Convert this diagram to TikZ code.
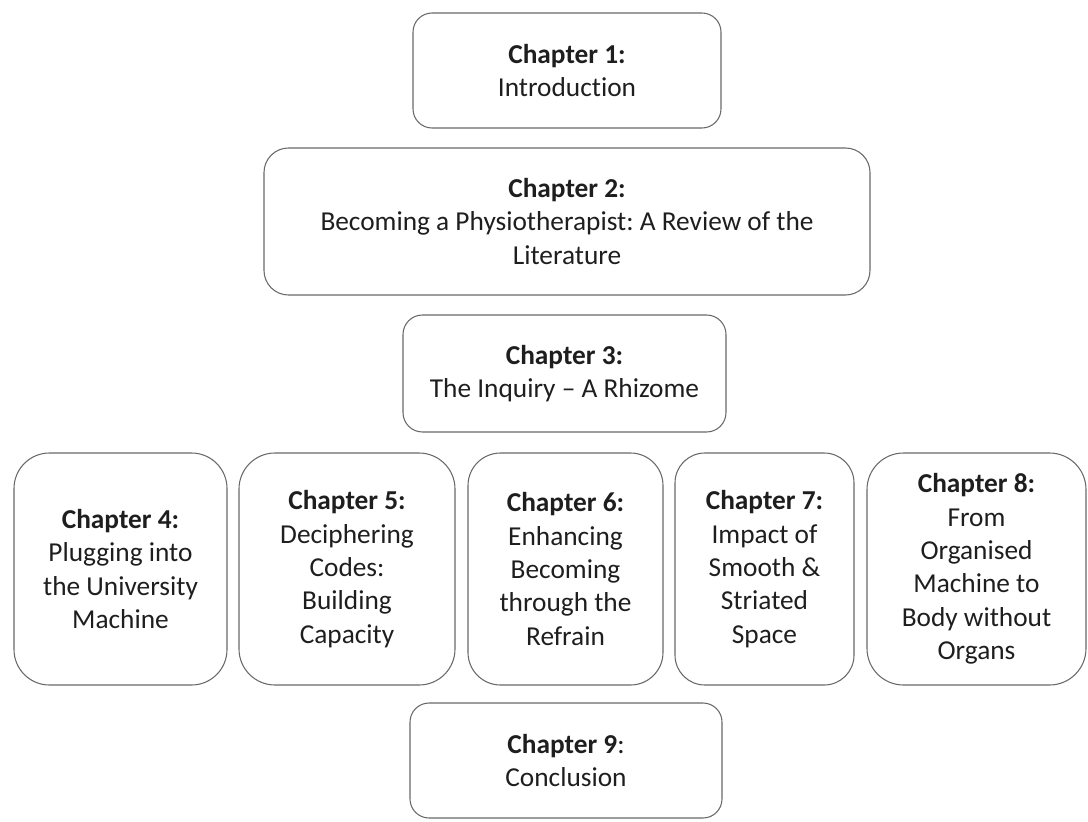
\documentclass[tikz,border=0pt]{standalone}
\usepackage{fontspec}
\setmainfont{Carlito}[Ligatures=CommonOff]
\frenchspacing
\begin{document}
\begin{tikzpicture}[x=0.75pt,y=0.75pt,yscale=-1,xscale=1,
  chapbox/.style={draw={rgb,255:red,105;green,105;blue,105}, line width=0.8pt, align=center, inner sep=0pt,
    text={rgb,255:red,30;green,30;blue,30}, font=\fontsize{20.5}{25}\selectfont},
  rowbox/.style={chapbox, minimum height=174pt}]
\useasboundingbox (0,0) rectangle (1088,821);

%Rounded Rect [id:chapter1]
\node [chapbox, rounded corners=14.3pt, minimum width=231pt, minimum height=86.25pt] (intro) at (567,70.5) {\textbf{Chapter 1:}\\Introduction};
%Rounded Rect [id:chapter2]
\node [chapbox, rounded corners=18.4pt, minimum width=454.5pt, minimum height=110.25pt] (review) at (567,221.5) {\textbf{Chapter 2:}\\Becoming a Physiotherapist: A Review of the\\Literature};
%Rounded Rect [id:chapter3]
\node [chapbox, rounded corners=14.6pt, minimum width=242.25pt, minimum height=87.75pt] (inquiry) at (564.5,373.5) {\textbf{Chapter 3:}\\The Inquiry -- A Rhizome};

%Rounded Rect [id:chapter4]
\node [rowbox, rounded corners=26.6pt, minimum width=159.75pt] (univ) at (120.5,569) {\textbf{Chapter 4:}\\Plugging into\\the University\\Machine};
%Rounded Rect [id:chapter5]
\node [rowbox, rounded corners=27pt, minimum width=162pt] (codes) at (347,569) {\textbf{Chapter 5:}\\Deciphering\\Codes:\\Building\\Capacity};
%Rounded Rect [id:chapter6]
\node [rowbox, rounded corners=24.4pt, minimum width=146.25pt] (refrain) at (565.5,569) {\textbf{Chapter 6:}\\Enhancing\\Becoming\\through the\\Refrain};
%Rounded Rect [id:chapter7]
\node [rowbox, rounded corners=22.4pt, minimum width=134.25pt] (space) at (764.5,569) {\textbf{Chapter 7:}\\Impact of\\Smooth \&\\Striated\\Space};
%Rounded Rect [id:chapter8]
\node [rowbox, rounded corners=27.4pt, minimum width=164.25pt] (organs) at (976.5,569) {\textbf{Chapter 8:}\\From\\Organised\\Machine to\\Body without\\Organs};

%Rounded Rect [id:chapter9]
\node [chapbox, rounded corners=14.3pt, minimum width=234pt, minimum height=86.25pt] (concl) at (566,760.5) {\textbf{Chapter 9}:\\Conclusion};

\end{tikzpicture}
\end{document}
